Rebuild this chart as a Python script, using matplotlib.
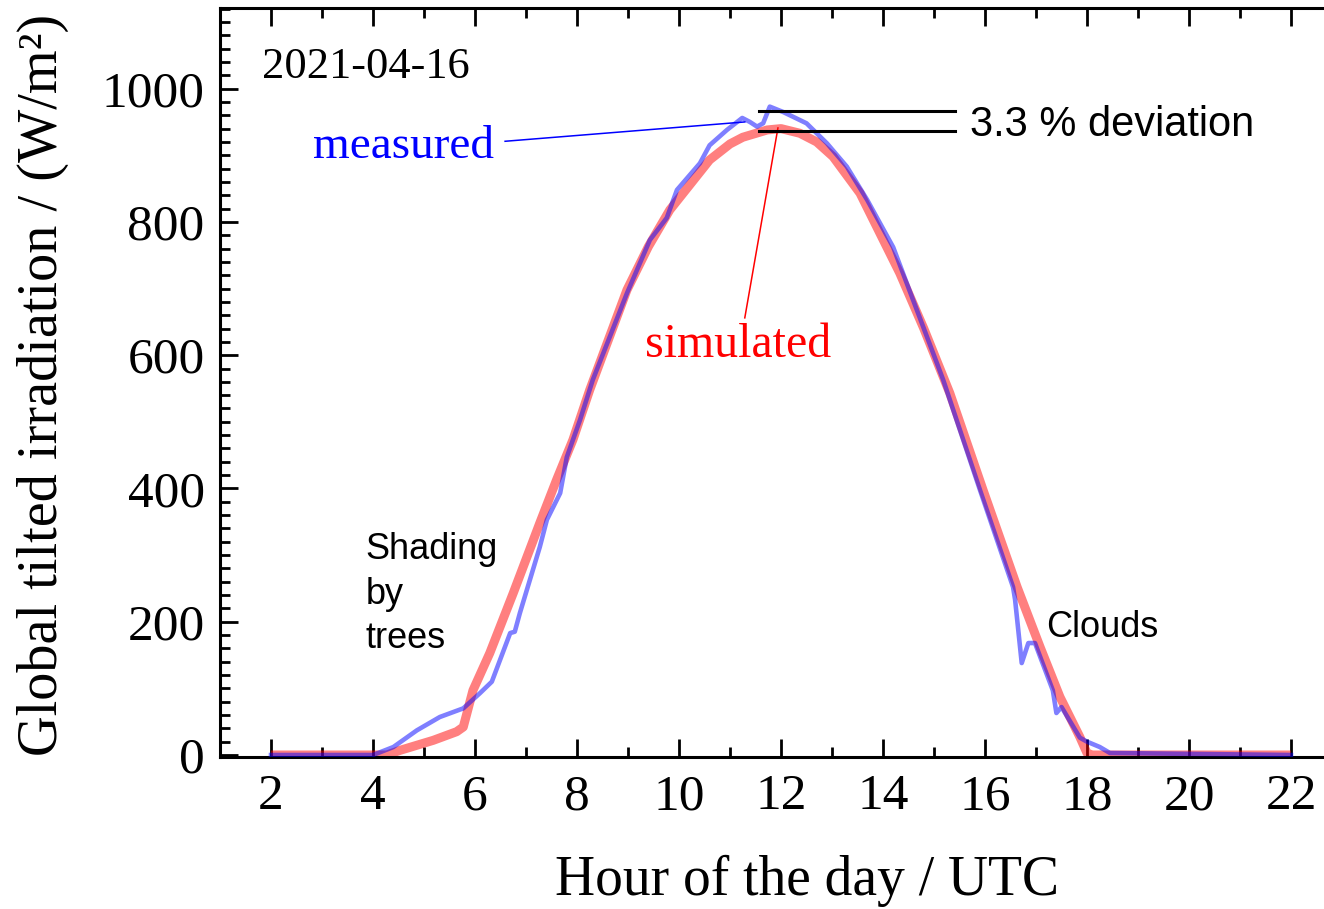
import matplotlib
matplotlib.use("Agg")
import matplotlib.pyplot as plt
from matplotlib.ticker import MultipleLocator

# simulated irradiation
sim_hour = [2, 4.0, 4.27, 4.53, 5.18, 5.64, 5.77, 5.96, 6.29, 6.75, 7.27, 7.6, 7.92, 8.25,
            8.98, 9.4, 9.82, 10.6, 11.0, 11.25, 11.73, 12.0, 12.37, 12.7, 13.02, 13.55,
            14.33, 14.8, 15.31, 15.96, 16.63, 17.08, 17.47, 17.86, 18.0, 18.1, 22]
sim_val = [0, 0, 0, 7, 22, 35, 42, 97, 153, 243, 348, 413, 473, 548,
           698, 763, 818, 893, 917, 927, 938, 940, 933, 920, 898, 843,
           723, 640, 543, 398, 252, 162, 87, 27, 3, 0, 0]

# measured irradiation
meas_hour = [2, 4.0, 4.4, 4.86, 5.31, 5.77, 6.1, 6.33, 6.69, 6.78, 6.88, 7.27, 7.41, 7.67,
             7.8, 8.06, 8.31, 8.98, 9.43, 9.7, 9.76, 9.96, 10.41, 10.6, 10.94, 11.24,
             11.39, 11.53, 11.65, 11.78, 12.04, 12.5, 12.9, 13.29, 13.69, 14.2, 15.18,
             15.9, 16.55, 16.59, 16.72, 16.85, 16.98, 17.33, 17.4, 17.5, 17.86, 18.0,
             18.25, 18.45, 22]
meas_val = [0, 0, 12, 37, 57, 70, 93, 110, 183, 185, 213, 312, 353, 393,
            447, 503, 563, 693, 773, 800, 806, 848, 888, 915, 938, 956,
            950, 943, 948, 973, 965, 948, 918, 883, 833, 762, 563,
            398, 252, 233, 138, 168, 168, 97, 63, 72, 26, 20,
            12, 3, 0]

dev_levels = [967, 937]
x_ticks = [2, 4, 6, 8, 10, 12, 14, 16, 18, 20, 22]
y_ticks = [0, 200, 400, 600, 800, 1000]

serif = "Liberation Serif"
sans = "Liberation Sans"

fig = plt.figure(figsize=(13.24, 9.09), dpi=100)
ax = fig.add_axes([220 / 1324, 152 / 909, 1122 / 1324, 749 / 909])

ax.plot(sim_hour, sim_val, color="red", alpha=0.5, lw=6.5, solid_capstyle="butt", zorder=2)
ax.plot(meas_hour, meas_val, color="blue", alpha=0.5, lw=3.3, zorder=3)

ax.set_xlim(1, 23)
ax.set_ylim(-3, 1121)
ax.set_xticks(x_ticks)
ax.set_yticks(y_ticks)
ax.xaxis.set_minor_locator(MultipleLocator(1))
ax.yaxis.set_minor_locator(MultipleLocator(20))

ax.spines["right"].set_visible(False)
for s in ["left", "top", "bottom"]:
    ax.spines[s].set_linewidth(2.2)
ax.tick_params(which="both", direction="in", top=True, right=False, width=2)
ax.tick_params(which="major", length=13)
ax.tick_params(which="minor", length=7)
ax.tick_params(axis="x", which="major", pad=12)
ax.tick_params(axis="y", which="major", pad=11)
for lab in ax.get_xticklabels() + ax.get_yticklabels():
    lab.set_fontfamily(serif)
    lab.set_fontsize(37)

ax.set_xlabel("Hour of the day / UTC", fontfamily=serif, fontsize=40)
ax.set_ylabel("Global tilted irradiation / (W/m²)", fontfamily=serif, fontsize=40.5)
ax.xaxis.label.set_verticalalignment("center")
ax.yaxis.label.set_verticalalignment("center")
ax.xaxis.set_label_coords(0.523, -0.166)
ax.yaxis.set_label_coords(-0.158, 0.497)

# annotations
ax.text(1.82, 1033, "2021-04-16", fontfamily=serif, fontsize=32, va="center", ha="left")
ax.text(6.37, 896, "measured", fontfamily=serif, fontsize=34, color="blue", ha="right", va="baseline")
ax.plot([6.59, 11.29], [921, 950], color="blue", lw=1.1, zorder=4)
ax.text(9.33, 597, "simulated", fontfamily=serif, fontsize=34.5, color="red", ha="left", va="baseline")
ax.plot([11.29, 11.94], [656, 941], color="red", lw=1.1, zorder=4)
for lvl in dev_levels:
    ax.plot([11.57, 15.41], [lvl, lvl], color="black", lw=2.2, zorder=4)
ax.text(15.71, 929, "3.3 % deviation", fontfamily=sans, fontsize=30, ha="left", va="baseline")
ax.text(17.2, 177, "Clouds", fontfamily=sans, fontsize=26, ha="left", va="baseline")
for txt, yb in zip(["Shading", "by", "trees"], [294, 227, 161]):
    ax.text(3.86, yb, txt, fontfamily=sans, fontsize=26, ha="left", va="baseline")

fig.savefig("out.png", dpi=100)
